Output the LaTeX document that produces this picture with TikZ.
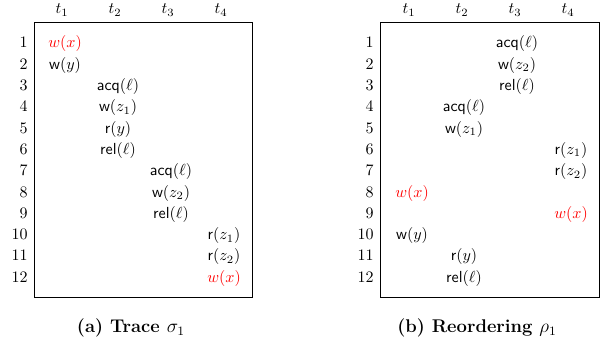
\documentclass[tikz,border=0pt]{standalone}
\usepackage{amsmath}
\begin{document}
\begin{tikzpicture}[x=0.625pt,y=-0.625pt,
  num/.style={anchor=base east,inner sep=0pt},
  ev/.style={anchor=base,inner sep=0pt},
  hot/.style={ev,text=red},
  hdr/.style={anchor=base,inner sep=0pt},
  captext/.style={anchor=base,inner sep=0pt,font=\fontsize{11.5}{13}\selectfont\bfseries},
  frame/.style={draw,line width=0.6pt}]
\useasboundingbox (0,0) rectangle (600,343);
% ---------- left panel ----------
\draw[frame] (34,22) rectangle (252,297);
\node[hdr] (La) at (62,14) {$t_1$};
\node[hdr] (Lb) at (115,14) {$t_2$};
\node[hdr] (Lc) at (168,14) {$t_3$};
\node[hdr] (Ld) at (221,14) {$t_4$};
\foreach \i in {1,...,12}{
  \node[num] (Ln\i) at (28,{48+(\i-1)*21.3}) {\i};
}
\node[hot] (L1) at (65,48) {$w(x)$};
\node[ev] (L2) at (65,69.3) {\textsf{w}$(y)$};
\node[ev] (L3) at (118,90.6) {\textsf{acq}$(\ell)$};
\node[ev] (L4) at (118,111.9) {\textsf{w}$(z_1)$};
\node[ev] (L5) at (118,133.2) {\textsf{r}$(y)$};
\node[ev] (L6) at (118,154.5) {\textsf{rel}$(\ell)$};
\node[ev] (L7) at (171,175.8) {\textsf{acq}$(\ell)$};
\node[ev] (L8) at (171,197.1) {\textsf{w}$(z_2)$};
\node[ev] (L9) at (171,218.4) {\textsf{rel}$(\ell)$};
\node[ev] (L10) at (224,239.7) {\textsf{r}$(z_1)$};
\node[ev] (L11) at (224,261.0) {\textsf{r}$(z_2)$};
\node[hot] (L12) at (224,282.3) {$w(x)$};
\node[captext] (Lcap) at (131,333) {(a) Trace $\sigma_1$};
% ---------- right panel ----------
\draw[frame] (380,22) rectangle (599,297);
\node[hdr] (Ra) at (409,14) {$t_1$};
\node[hdr] (Rb) at (462,14) {$t_2$};
\node[hdr] (Rc) at (515,14) {$t_3$};
\node[hdr] (Rd) at (568,14) {$t_4$};
\foreach \i in {1,...,12}{
  \node[num] (Rn\i) at (374,{48+(\i-1)*21.3}) {\i};
}
\node[ev] (R1) at (517,48) {\textsf{acq}$(\ell)$};
\node[ev] (R2) at (517,69.3) {\textsf{w}$(z_2)$};
\node[ev] (R3) at (517,90.6) {\textsf{rel}$(\ell)$};
\node[ev] (R4) at (464,111.9) {\textsf{acq}$(\ell)$};
\node[ev] (R5) at (464,133.2) {\textsf{w}$(z_1)$};
\node[ev] (R6) at (571,154.5) {\textsf{r}$(z_1)$};
\node[ev] (R7) at (571,175.8) {\textsf{r}$(z_2)$};
\node[hot] (R8) at (412,197.1) {$w(x)$};
\node[hot] (R9) at (571,218.4) {$w(x)$};
\node[ev] (R10) at (412,239.7) {\textsf{w}$(y)$};
\node[ev] (R11) at (464,261.0) {\textsf{r}$(y)$};
\node[ev] (R12) at (464,282.3) {\textsf{rel}$(\ell)$};
\node[captext] (Rcap) at (477,333) {(b) Reordering $\rho_1$};
\end{tikzpicture}
\end{document}
